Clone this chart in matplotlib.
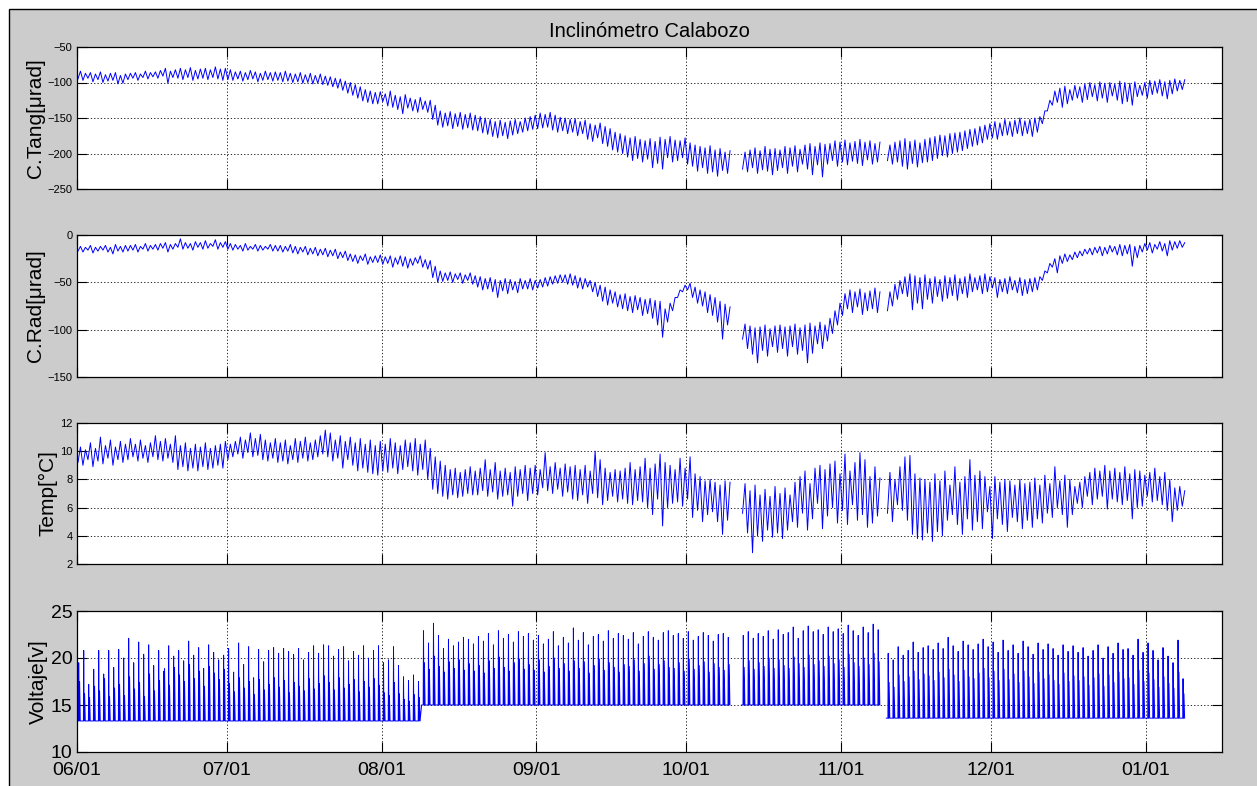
import numpy as np
import matplotlib
matplotlib.use('Agg')
import matplotlib.pyplot as plt
import matplotlib.dates as mdates
from matplotlib.patches import Rectangle
from datetime import datetime

nan = np.nan

# Valores diarios (máximo / mínimo) desde el 01/06; nan = sin datos
tang_hi = [
    -84, -87, -86, -88, -85, -89, -87, -86, -90, -88,
    -87, -86, -88, -84, -86, -85, -83, -80, -84, -82,
    -80, -82, -79, -83, -81, -80, -82, -78, -81, -80,
    -82, -85, -84, -86, -83, -85, -87, -84, -86, -85,
    -86, -84, -87, -88, -86, -89, -87, -90, -88, -91,
    -92, -94, -95, -98, -100, -103, -106, -110, -112, -114,
    -113, -116, -112, -118, -120, -117, -122, -124, -121, -126,
    -125, -132, -140, -143, -141, -144, -142, -145, -143, -146,
    -148, -150, -152, -155, -153, -156, -154, -152, -155, -150,
    -148, -146, -143, -145, -142, -146, -149, -150, -152, -151,
    -155, -153, -158, -160, -157, -162, -165, -170, -172, -175,
    -178, -176, -180, -182, -179, -183, -177, -180, -176, -181,
    -182, -178, -185, -188, -190, -192, -189, -195, -193, -198,
    -196, nan, nan, -198, -195, -192, -196, -190, -194, -193,
    -195, -190, -192, -189, -194, -188, -186, -190, -185, -187,
    -186, -182, -184, -181, -185, -183, -180, -184, -182, -186,
    -184, nan, -188, -184, -182, -179, -183, -181, -185, -180,
    -178, -176, -174, -175, -172, -171, -170, -168, -166, -165,
    -162, -160, -158, -155, -157, -152, -155, -153, -150, -154,
    -152, -150, -148, -140, -125, -112, -108, -105, -110, -104,
    -106, -102, -100, -103, -99, -101, -100, -102, -98, -100,
    -101, -99, -104, -100, -97, -98, -96, -99, -97, -95,
    -97, -96,
]
tang_lo = [
    -95, -97, -94, -99, -96, -100, -98, -97, -102, -101,
    -96, -94, -97, -93, -95, -92, -94, -91, -101, -93,
    -94, -96, -93, -97, -95, -94, -96, -93, -95, -97,
    -96, -97, -95, -98, -96, -95, -99, -97, -96, -98,
    -97, -99, -98, -100, -99, -101, -100, -102, -101, -103,
    -104, -106, -108, -111, -115, -118, -122, -126, -128, -130,
    -130, -127, -133, -135, -138, -144, -136, -140, -142, -138,
    -142, -152, -160, -163, -161, -165, -162, -166, -164, -167,
    -168, -171, -173, -176, -178, -175, -179, -174, -172, -170,
    -168, -166, -165, -164, -163, -167, -170, -168, -172, -170,
    -175, -172, -180, -183, -178, -186, -190, -195, -198, -200,
    -205, -210, -207, -212, -208, -220, -214, -222, -206, -212,
    -210, -206, -215, -218, -225, -220, -228, -226, -232, -224,
    -228, nan, nan, -222, -226, -220, -228, -223, -225, -230,
    -224, -220, -228, -218, -226, -215, -222, -230, -216, -233,
    -215, -210, -218, -212, -216, -211, -214, -217, -209, -215,
    -212, nan, -210, -215, -212, -218, -222, -214, -219, -213,
    -212, -210, -207, -203, -205, -200, -198, -196, -193, -190,
    -188, -185, -180, -178, -180, -175, -174, -176, -172, -175,
    -172, -176, -170, -158, -140, -132, -128, -135, -130, -125,
    -122, -128, -124, -120, -126, -122, -128, -119, -125, -130,
    -127, -132, -120, -118, -122, -117, -115, -119, -123, -116,
    -112, -110,
]

rad_hi = [
    -12, -13, -11, -13, -12, -11, -13, -10, -12, -11,
    -11, -10, -12, -9, -11, -10, -9, -8, -10, -9,
    -4, -8, -9, -7, -8, -6, -9, -5, -8, -7,
    -9, -10, -11, -9, -12, -10, -11, -12, -10, -11,
    -11, -12, -10, -12, -13, -12, -14, -13, -15, -14,
    -16, -15, -18, -17, -20, -21, -22, -20, -23, -22,
    -21, -23, -22, -24, -22, -23, -25, -24, -22, -26,
    -27, -33, -38, -40, -39, -41, -40, -42, -40, -43,
    -44, -46, -45, -47, -48, -46, -47, -49, -46, -48,
    -46, -48, -47, -45, -44, -43, -42, -42, -41, -43,
    -45, -46, -48, -50, -53, -55, -58, -60, -63, -62,
    -65, -64, -66, -68, -67, -69, -70, -78, -72, -66,
    -58, -53, -51, -55, -58, -60, -63, -66, -70, -73,
    -76, nan, nan, -94, -96, -98, -97, -95, -99, -96,
    -95, -97, -96, -94, -98, -95, -93, -96, -92, -95,
    -88, -80, -72, -62, -58, -60, -57, -61, -59, -56,
    -60, nan, -60, -52, -48, -44, -41, -43, -45, -42,
    -46, -44, -47, -43, -45, -42, -46, -44, -41, -45,
    -43, -41, -44, -45, -47, -46, -44, -48, -45, -47,
    -46, -45, -44, -38, -30, -25, -22, -20, -21, -18,
    -17, -15, -14, -13, -12, -13, -11, -12, -10, -11,
    -10, -12, -11, -9, -8, -10, -7, -9, -6, -7,
    -6, -8,
]
rad_lo = [
    -17, -18, -16, -19, -17, -16, -18, -20, -17, -18,
    -17, -16, -18, -15, -17, -15, -16, -14, -18, -15,
    -13, -15, -14, -16, -13, -15, -14, -12, -15, -13,
    -15, -16, -15, -17, -16, -15, -17, -16, -15, -17,
    -17, -18, -17, -19, -20, -18, -21, -20, -22, -21,
    -23, -22, -25, -24, -27, -28, -30, -27, -31, -29,
    -29, -31, -30, -34, -31, -33, -35, -32, -30, -34,
    -36, -45, -50, -49, -48, -50, -47, -51, -48, -52,
    -55, -58, -57, -60, -66, -59, -62, -58, -61, -57,
    -57, -58, -56, -55, -54, -52, -51, -50, -52, -53,
    -56, -57, -55, -60, -65, -70, -74, -72, -76, -78,
    -80, -82, -79, -85, -83, -88, -95, -108, -92, -80,
    -66, -60, -58, -66, -72, -75, -82, -85, -92, -110,
    -95, nan, nan, -110, -120, -126, -135, -122, -128, -118,
    -124, -120, -128, -118, -126, -122, -135, -125, -115, -120,
    -112, -104, -95, -85, -78, -82, -76, -84, -80, -78,
    -82, nan, -80, -75, -68, -62, -65, -79, -72, -78,
    -68, -72, -65, -70, -67, -64, -69, -62, -66, -60,
    -58, -62, -60, -56, -66, -60, -62, -58, -61, -64,
    -62, -60, -58, -48, -40, -34, -40, -30, -28, -26,
    -24, -22, -20, -21, -19, -22, -20, -18, -21, -22,
    -20, -33, -24, -18, -16, -19, -15, -17, -22, -16,
    -14, -13,
]

temp_hi = [
    10.3, 10.1, 10.6, 10.2, 11.0, 10.4, 10.8, 10.3, 10.7, 10.5,
    10.9, 10.5, 10.8, 10.4, 10.6, 11.1, 10.7, 10.9, 10.5, 11.1,
    10.4, 10.6, 10.2, 10.5, 10.3, 10.6, 10.2, 10.4, 10.5, 10.7,
    10.5, 10.7, 11.0, 10.8, 11.3, 10.9, 11.2, 10.8, 10.6, 10.9,
    10.6, 10.8, 10.4, 10.9, 10.7, 11.0, 10.6, 10.8, 11.1, 11.5,
    11.3, 10.8, 11.1, 10.7, 11.0, 10.6, 10.9, 10.5, 10.8, 10.4,
    10.7, 10.5, 10.9, 10.6, 10.4, 10.8, 10.6, 10.9, 10.5, 10.8,
    10.2, 9.6, 9.3, 9.0, 8.7, 8.8, 8.5, 8.7, 8.9, 8.6,
    8.8, 9.4, 8.7, 9.2, 8.6, 8.8, 8.5, 8.9, 8.7, 9.0,
    8.8, 9.0, 8.7, 9.9, 8.9, 9.2, 8.8, 9.1, 8.9, 9.0,
    8.7, 9.0, 8.6, 10.0, 9.4, 8.8, 8.5, 8.7, 8.6, 8.8,
    9.2, 8.7, 8.9, 9.5, 8.8, 9.1, 9.8, 9.2, 9.0, 8.7,
    9.5, 8.8, 9.6, 8.4, 8.2, 7.9, 8.0, 7.8, 7.6, 7.9,
    7.8, nan, nan, 7.7, 7.2, 7.6, 6.9, 7.3, 6.8, 7.5,
    7.0, 7.4, 6.9, 7.8, 8.2, 8.6, 7.7, 8.8, 9.0, 8.7,
    9.1, 9.3, 8.4, 9.8, 8.6, 9.2, 9.9, 9.4, 8.2, 8.9,
    8.1, nan, 8.5, 8.0, 8.9, 9.6, 9.7, 8.4, 8.1, 8.0,
    7.8, 8.4, 7.9, 8.6, 7.6, 8.9, 7.8, 8.2, 9.4, 8.3,
    8.6, 8.2, 7.5, 8.2, 7.8, 8.0, 7.9, 7.6, 8.0, 7.7,
    7.8, 8.1, 7.6, 8.3, 7.7, 8.9, 7.9, 8.3, 8.0, 7.5,
    7.8, 8.2, 8.5, 8.8, 8.6, 9.0, 8.6, 8.8, 8.5, 8.9,
    8.4, 8.7, 8.6, 8.3, 8.5, 8.8, 8.2, 8.5, 8.0, 7.4,
    7.5, 7.2,
]
temp_lo = [
    9.2, 9.0, 9.4, 8.9, 9.3, 9.1, 9.5, 9.0, 9.4, 9.2,
    9.4, 9.6, 9.3, 9.5, 9.2, 9.6, 9.4, 9.3, 9.5, 9.2,
    8.7, 8.9, 8.6, 8.8, 8.6, 8.9, 8.7, 8.8, 9.0, 8.8,
    9.4, 9.6, 9.8, 9.5, 9.9, 9.6, 9.7, 9.4, 9.3, 9.5,
    9.2, 9.3, 9.1, 9.4, 9.2, 9.5, 9.3, 9.4, 9.6, 9.8,
    9.6, 9.3, 9.5, 8.8, 9.4, 9.0, 8.6, 8.8, 8.5, 8.4,
    8.3, 8.6, 8.5, 8.8, 8.4, 8.7, 8.9, 8.6, 8.3, 8.7,
    8.0, 7.3, 7.0, 6.8, 6.6, 6.9, 6.7, 6.8, 7.0, 6.9,
    6.9, 7.2, 6.8, 7.1, 6.6, 6.8, 6.9, 6.1, 6.8, 7.0,
    6.5, 7.0, 6.9, 7.4, 7.2, 7.0, 7.3, 6.8, 7.1, 6.6,
    6.5, 6.9, 6.3, 7.0, 6.7, 6.2, 6.5, 6.8, 6.4, 6.6,
    6.3, 6.2, 6.5, 6.4, 6.0, 5.5, 6.6, 4.7, 6.0, 6.3,
    6.4, 6.1, 6.6, 5.3, 5.8, 5.0, 5.5, 5.7, 5.0, 4.1,
    5.1, nan, nan, 5.6, 4.2, 2.8, 4.0, 3.6, 4.4, 3.9,
    4.2, 3.8, 4.4, 5.0, 4.6, 5.6, 4.4, 5.2, 6.3, 4.5,
    5.4, 6.0, 4.9, 5.8, 4.8, 6.2, 5.1, 5.5, 4.6, 4.9,
    5.4, nan, 5.6, 5.0, 6.2, 5.8, 5.1, 4.1, 3.8, 3.7,
    4.2, 3.6, 4.3, 4.0, 5.1, 5.5, 4.8, 4.1, 5.2, 4.4,
    5.0, 4.5, 5.7, 3.8, 5.2, 4.8, 4.3, 5.3, 5.0, 4.5,
    5.1, 4.6, 5.2, 4.9, 5.6, 5.3, 6.0, 5.5, 4.6, 5.5,
    6.3, 6.0, 6.8, 6.2, 6.6, 6.8, 5.9, 6.6, 6.4, 6.2,
    6.5, 5.2, 6.0, 6.1, 6.8, 6.4, 6.5, 6.2, 5.8, 5.0,
    5.8, 6.1,
]

# Voltaje: pico diario, segundo pico y nivel de reposo por tramos
volt_peak = [
    19.5, 20.8, 17.2, 18.8, 20.8, 18.3, 20.8, 19.0, 20.9, 20.0,
    22.1, 19.5, 21.7, 20.4, 21.4, 19.2, 20.8, 18.6, 21.3, 20.2,
    20.8, 19.7, 21.8, 20.3, 21.1, 18.9, 21.4, 20.6, 19.8, 20.3,
    21.0, 18.5, 21.6, 19.3, 21.2, 17.9, 20.9, 19.6, 20.8, 21.1,
    20.5, 21.0, 20.7, 20.4, 21.0, 19.8, 20.6, 21.3, 20.5, 21.4,
    21.3, 20.2, 20.9, 21.2, 19.7, 20.7, 20.3, 21.3, 20.0, 20.8,
    21.3, 19.5, 19.8, 21.2, 19.2, 18.0, 17.6, 18.2, 17.5, 22.9,
    21.6, 23.7, 22.4, 21.0, 22.0, 21.3, 21.7, 22.2, 22.0, 21.5,
    22.3, 21.8, 22.6, 21.4, 22.9, 22.1, 22.5, 21.7, 22.8, 22.3,
    22.6, 21.9, 22.4, 21.5, 22.0, 22.8, 21.3, 22.2, 21.6, 23.2,
    21.9, 22.7, 21.4, 22.3, 22.5, 21.8, 22.9, 22.1, 22.6, 22.4,
    22.0, 22.7, 21.5, 22.3, 22.8, 22.2, 21.9, 22.7, 22.9, 22.4,
    22.6, 22.1, 22.8, 21.9, 22.3, 22.7, 22.4, 21.8, 22.5, 22.6,
    22.2, nan, nan, 22.4, 22.8, 22.1, 22.6, 22.3, 22.9, 22.0,
    23.0, 22.5, 22.7, 23.3, 22.1, 22.9, 23.4, 22.8, 23.0, 22.5,
    23.3, 22.8, 23.1, 22.6, 23.5, 22.9, 22.4, 23.3, 22.7, 23.6,
    23.0, nan, 20.5, 19.8, 21.2, 20.3, 20.8, 21.7, 20.6, 21.1,
    21.3, 20.9, 21.6, 21.0, 22.2, 21.3, 20.7, 21.8, 21.4, 20.9,
    21.5, 22.0, 21.2, 21.7, 20.6, 21.9, 20.8, 21.4, 20.5, 21.8,
    21.2, 20.4, 21.6, 20.9, 21.5, 21.0, 20.3, 21.4, 20.7, 21.3,
    20.6, 21.1, 20.2, 20.8, 21.4, 20.0, 21.2, 20.5, 21.6, 20.9,
    21.0, 20.3, 22.0, 20.6, 21.6, 20.8, 19.8, 21.1, 20.2, 19.5,
    21.9, 17.8,
]
volt_second = [
    17.5, 16.2, 15.8, 17.0, 16.5, 17.8, 15.9, 16.8, 17.2, 16.0,
    18.0, 16.7, 17.4, 15.9, 18.3, 16.5, 17.6, 18.9, 17.1, 19.0,
    18.2, 17.5, 19.3, 17.8, 18.6, 17.0, 19.1, 18.4, 17.7, 18.8,
    17.3, 16.4, 17.9, 16.8, 17.5, 16.1, 17.7, 16.6, 17.2, 17.9,
    16.9, 17.6, 16.3, 17.4, 17.0, 16.5, 17.8, 16.7, 17.3, 18.1,
    17.4, 16.6, 17.9, 16.8, 17.2, 17.7, 16.4, 17.5, 16.9, 17.8,
    17.1, 16.3, 16.0, 17.4, 16.2, 15.6, 15.4, 16.1, 15.8, 19.5,
    18.8, 20.2, 19.1, 18.5, 19.6, 18.9, 19.8, 18.7, 19.4, 18.6,
    19.2, 18.4, 19.7, 18.9, 20.1, 19.0, 18.6, 19.5, 19.9, 18.8,
    19.3, 18.7, 19.8, 18.5, 19.1, 20.0, 18.9, 19.4, 18.6, 19.7,
    18.9, 19.6, 18.4, 19.2, 19.9, 18.7, 19.5, 19.0, 18.5, 19.3,
    19.1, 19.8, 18.6, 19.4, 20.2, 18.8, 19.3, 19.7, 19.0, 18.9,
    19.5, 18.6, 19.9, 18.8, 19.2, 19.6, 18.5, 19.4, 19.0, 18.7,
    19.3, nan, nan, 19.0, 19.7, 18.8, 19.5, 19.1, 20.0, 18.9,
    19.8, 19.2, 18.9, 20.1, 19.4, 19.0, 20.3, 19.3, 19.7, 19.1,
    20.2, 19.4, 19.8, 19.0, 20.4, 19.5, 19.1, 20.0, 19.3, 20.5,
    19.6, nan, 17.4, 16.9, 18.2, 17.5, 18.0, 18.6, 17.7, 18.3,
    18.1, 17.6, 18.5, 17.9, 18.8, 18.2, 17.5, 18.7, 18.0, 17.8,
    18.4, 18.9, 17.9, 18.6, 17.6, 18.8, 17.7, 18.3, 17.4, 18.6,
    18.0, 17.3, 18.5, 17.8, 18.2, 17.6, 17.2, 18.4, 17.5, 18.1,
    17.6, 18.0, 17.1, 17.9, 18.3, 17.0, 18.2, 17.4, 18.5, 17.8,
    17.9, 17.2, 18.7, 17.5, 18.4, 17.7, 16.9, 18.0, 17.3, 16.8,
    18.5, 16.2,
]
volt_base_from = [0, 69, 162]
volt_base = [13.3, 15.0, 13.6]

start = mdates.date2num(datetime(2011, 6, 1))


def zigzag(lo, hi):
    # mínimo a las 06h y máximo a las 18h de cada día
    d = np.arange(len(hi))
    t = np.column_stack([d + 0.25, d + 0.75]).ravel()
    v = np.column_stack([lo, hi]).ravel().astype(float)
    return start + t, v


def spikes(peak, second):
    d = np.arange(len(peak))
    pk = np.array(peak, dtype=float)
    sc = np.array(second, dtype=float)
    idx = np.searchsorted(volt_base_from, d, side='right') - 1
    base = np.array(volt_base)[idx]
    base = np.where(np.isnan(pk), nan, base)
    t = np.column_stack([d + 0.02, d + 0.34, d + 0.40, d + 0.50,
                         d + 0.58, d + 0.72]).ravel()
    v = np.column_stack([base, base, pk, base, sc, base]).ravel()
    return start + t, v


W, H = 1257, 786
fig = plt.figure(figsize=(W / 100, H / 100), dpi=100, facecolor='white')
plt.rcParams['font.family'] = ['Liberation Sans', 'DejaVu Sans']
fig.add_artist(Rectangle((9 / W, -0.01), 1.0, (H - 9) / H + 0.01,
                         transform=fig.transFigure, facecolor='#cccccc',
                         edgecolor='black', lw=1.0, zorder=-10))

left = 76.7 / W
width = (1222 - 76.7) / W
panels = [(47, 189), (235, 377), (423, 564), (611, 752)]
axes = []
for top, bot in panels:
    ax = fig.add_axes([left, (H - bot) / H, width, (bot - top) / H])
    axes.append(ax)

series = [zigzag(tang_lo, tang_hi), zigzag(rad_lo, rad_hi),
          zigzag(temp_lo, temp_hi), spikes(volt_peak, volt_second)]
ylims = [(-250, -50), (-150, 0), (2, 12), (10, 25)]
yticks = [np.arange(-250, -49, 50), np.arange(-150, 1, 50),
          np.arange(2, 13, 2), np.arange(10, 26, 5)]
ylabels = ['C.Tang[μrad]', 'C.Rad[μrad]', 'Temp[°C]', 'Voltaje[v]']

for i, ax in enumerate(axes):
    t, v = series[i]
    ax.plot(t, v, color=(0, 0, 1), lw=0.7)
    ax.set_facecolor('white')
    ax.set_xlim(start, start + 229.2)
    ax.set_ylim(*ylims[i])
    ax.set_yticks(yticks[i])
    ax.xaxis.set_major_locator(mdates.MonthLocator())
    ax.xaxis.set_major_formatter(mdates.DateFormatter('%m/%d'))
    ax.grid(True, color='black', linestyle=(0, (1.5, 2.5)), lw=0.6)
    ax.tick_params(direction='in', length=7, width=0.8, top=True, right=True,
                   pad=3, labelsize=8 if i < 3 else 14)
    for s in ax.spines.values():
        s.set_color('black')
        s.set_linewidth(0.9)
    ax.set_ylabel(ylabels[i], fontsize=15, labelpad=2)
    if i < 3:
        ax.tick_params(labelbottom=False)

axes[3].tick_params(axis='x', pad=7)
axes[0].set_title('Inclinómetro Calabozo', fontsize=14.5, pad=7)

fig.savefig('out.png', dpi=100, facecolor=fig.get_facecolor())
